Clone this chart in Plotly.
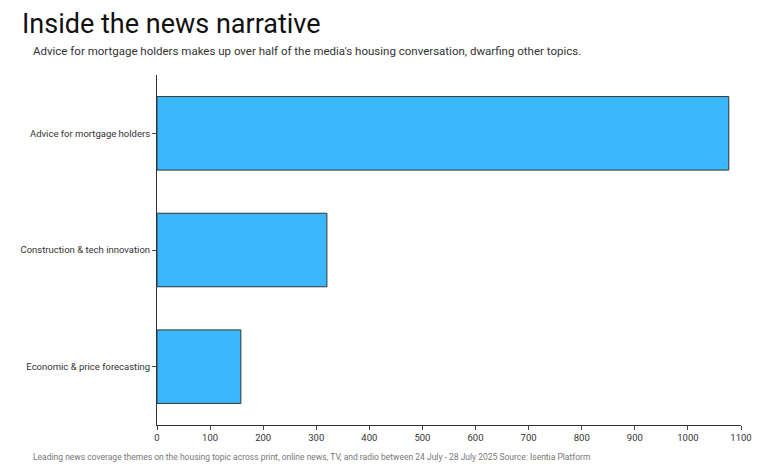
import plotly.graph_objects as go

categories = ["Advice for mortgage holders", "Construction & tech innovation", "Economic & price forecasting"]
values = [1077, 320, 158]

fig = go.Figure(go.Bar(
    y=categories, x=values, orientation="h",
    marker=dict(color="#3bb8fd", line=dict(color="#333333", width=1)),
))
fig.update_layout(
    width=780, height=470, plot_bgcolor="white", paper_bgcolor="white",
    margin=dict(l=142, r=47, t=67, b=53),
    font=dict(family="Roboto", color="#222"),
    bargap=0.37, showlegend=False,
    title=dict(text="Inside the news narrative", x=0.018, xanchor="left", y=0.968, yanchor="middle",
               font=dict(size=27, color="#111")),
    annotations=[
        dict(text="Advice for mortgage holders makes up over half of the media's housing conversation, dwarfing other topics.",
             xref="paper", yref="paper", x=-0.2166, y=1.069, xanchor="left", yanchor="middle",
             showarrow=False, font=dict(size=11.5, color="#333")),
        dict(text="Leading news coverage themes on the housing topic across print, online news, TV, and radio between 24 July - 28 July 2025 Source: Isentia Platform",
             xref="paper", yref="paper", x=-0.2166, y=-0.091, xanchor="left", yanchor="middle",
             showarrow=False, font=dict(size=8.5, color="#777")),
    ],
)
fig.update_xaxes(range=[0, 1100], dtick=100, showgrid=False, zeroline=False, showline=True,
                 linecolor="#333", ticks="outside", ticklen=4, tickfont=dict(size=9.5, color="#333"))
fig.update_yaxes(autorange="reversed", showline=True, linecolor="#333", ticks="outside", ticklen=4,
                 tickfont=dict(size=9.5, color="#333"), showgrid=False)
fig.write_html("out.html")
